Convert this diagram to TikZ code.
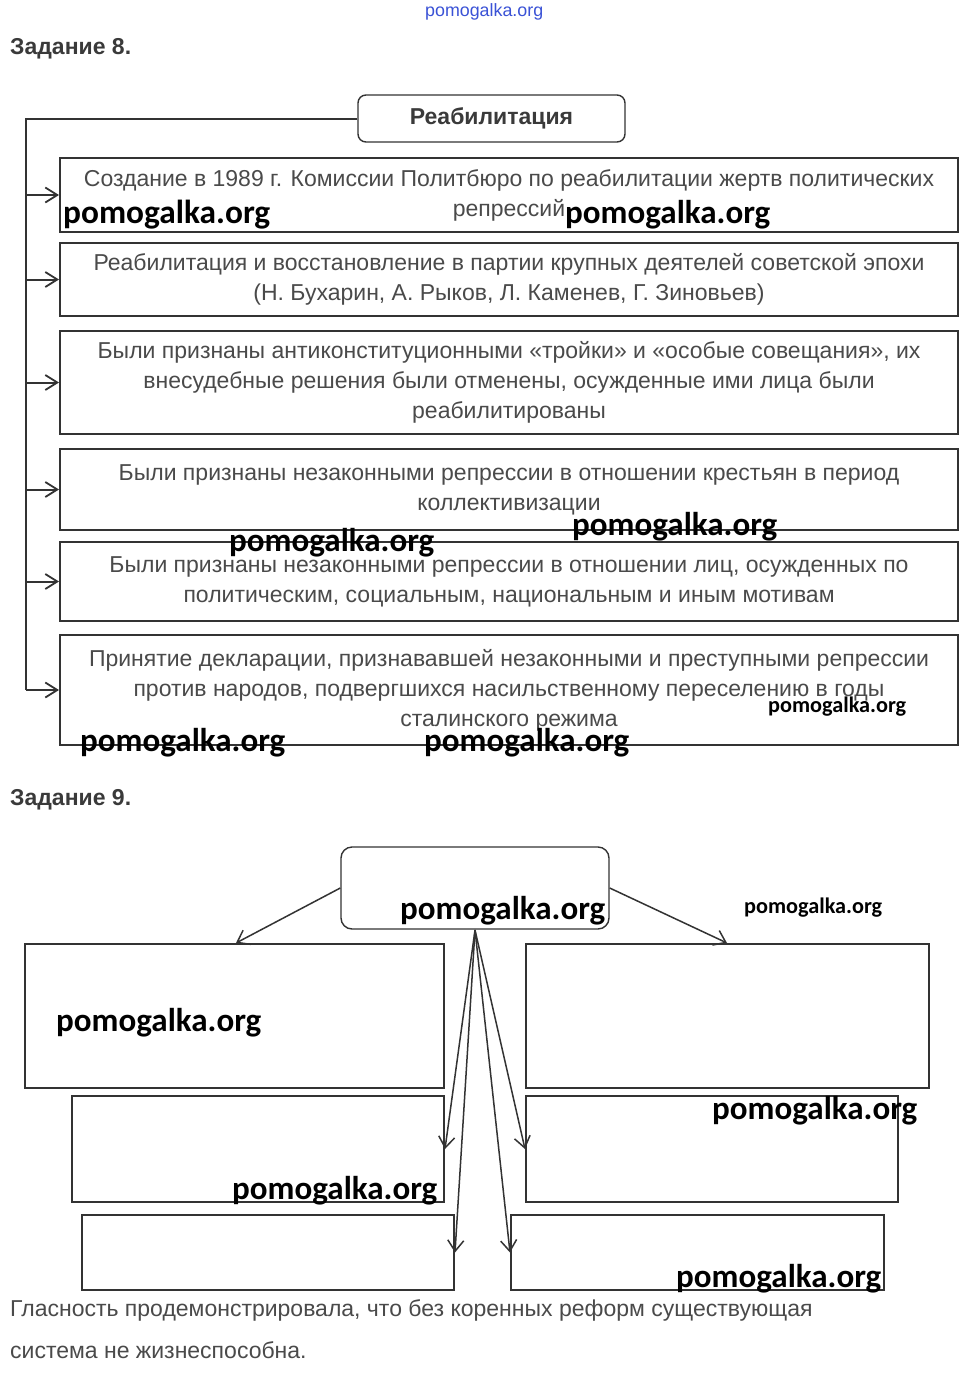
\documentclass[tikz,border=0pt]{standalone}
\usepackage{fontspec}
\setmainfont{Liberation Sans}
\newfontfamily\wmfont{Carlito}
\usetikzlibrary{arrows.meta}
\definecolor{txt}{HTML}{4A4A4A}
\definecolor{edge}{HTML}{333333}
\definecolor{head}{HTML}{3A3A3A}
\definecolor{wmblue}{HTML}{3A52D6}
\newcommand\wmark[1]{\resizebox{#1pt}{!}{\wmfont\bfseries pomogalka.org}}
\tikzset{
  bigbox/.style={draw=edge, line width=2pt, inner sep=0pt, text=txt, align=center,
    font=\fontsize{23}{30}\selectfont, minimum width=898pt},
  emptybox/.style={draw=edge, line width=2pt, inner sep=0pt},
  titlebox/.style={draw=edge, line width=1.4pt, rounded corners=8pt, inner sep=0pt,
    text=head, font=\bfseries\fontsize{23}{26}\selectfont},
  headline/.style={anchor=west, inner sep=0pt, text=head, font=\bfseries\fontsize{23}{26}\selectfont},
  plain/.style={anchor=west, inner sep=0pt, text=txt, font=\fontsize{23}{30}\selectfont},
  wm/.style={anchor=west, inner sep=0pt},
  conn/.style={draw=edge, line width=2pt},
  arr/.style={draw=edge, line width=2pt, -{Straight Barb[length=12pt,width=15pt,line width=1.8pt]}},
  arrnine/.style={draw=edge, line width=1.5pt, -{Straight Barb[length=11pt,width=16pt,line width=1.5pt]}}
}
\begin{document}
\begin{tikzpicture}[x=1pt,y=-1pt]
\useasboundingbox[fill=white] (0,0) rectangle (966,1373);

% top watermark
\node[wm, text=wmblue] (wtop) at (425,12) {\resizebox{118pt}{!}{\fontsize{16}{18}\selectfont pomogalka.org}};

% ---------- Task 8 ----------
\node[headline] (h8) at (10,49) {Задание 8.};
\node[titlebox, minimum width=267pt, minimum height=47pt] (t8) at (491.5,118.5) {Реабилитация};

\node[bigbox, minimum height=74pt] (b1) at (509,195) {Создание в 1989 г. Комиссии Политбюро по реабилитации жертв политических\\репрессий};
\node[bigbox, minimum height=73pt] (b2) at (509,279.5) {Реабилитация и восстановление в партии крупных деятелей советской эпохи\\(Н. Бухарин, А. Рыков, Л. Каменев, Г. Зиновьев)};
\node[bigbox, minimum height=103pt] (b3) at (509,382.5) {Были признаны антиконституционными «тройки» и «особые совещания», их\\внесудебные решения были отменены, осужденные ими лица были\\реабилитированы};
\node[bigbox, minimum height=81pt] (b4) at (509,489.5) {Были признаны незаконными репрессии в отношении крестьян в период\\коллективизации};
\node[bigbox, minimum height=79pt] (b5) at (509,581.5) {Были признаны незаконными репрессии в отношении лиц, осужденных по\\политическим, социальным, национальным и иным мотивам};
\node[bigbox, minimum height=110pt] (b6) at (509,690) {Принятие декларации, признававшей незаконными и преступными репрессии\\против народов, подвергшихся насильственному переселению в годы\\сталинского режима};

\coordinate (trunk) at (26,118.5);
\coordinate (trunkend) at (26,690);
\draw[conn] (t8.west) -- (trunk) -- (trunkend);
\foreach \b in {b1,b2,b3,b4,b5,b6}
  \draw[arr] (\b.west -| trunk) -- (\b.west);

% watermarks task 8
\node[wm] (w1) at (63,215) {\wmark{207}};
\node[wm] (w2) at (565,215) {\wmark{205}};
\node[wm] (w3) at (572,527) {\wmark{205}};
\node[wm] (w4) at (229,543) {\wmark{205}};
\node[wm] (w5) at (768,707) {\wmark{138}};
\node[wm] (w6) at (80,743) {\wmark{205}};
\node[wm] (w7) at (424,743) {\wmark{205}};

% ---------- Task 9 ----------
\node[headline] (h9) at (10,800) {Задание 9.};
\node[draw=edge, line width=1.4pt, rounded corners=11pt, minimum width=268pt, minimum height=82pt, inner sep=0pt] (c9) at (475,888) {};

\node[emptybox, minimum width=419pt, minimum height=144pt] (l1) at (234.5,1016) {};
\node[emptybox, minimum width=403pt, minimum height=144pt] (r1) at (727.5,1016) {};
\node[emptybox, minimum width=372pt, minimum height=106pt] (l2) at (258,1149) {};
\node[emptybox, minimum width=372pt, minimum height=106pt] (r2) at (712,1149) {};
\node[emptybox, minimum width=372pt, minimum height=75pt] (l3) at (268,1252.5) {};
\node[emptybox, minimum width=373pt, minimum height=75pt] (r3) at (697.5,1252.5) {};

\coordinate (src) at (475,930);
\draw[arrnine] (c9.west) -- (236,943);
\draw[arrnine] (c9.east) -- (727,943);
\draw[arrnine] (src) -- (l2.east);
\draw[arrnine] (src) -- (r2.west);
\draw[arrnine] (src) -- (l3.east);
\draw[arrnine] (src) -- (r3.west);

% watermarks task 9
\node[wm] (w8) at (400,911) {\wmark{205}};
\node[wm] (w9) at (744,908) {\wmark{138}};
\node[wm] (w10) at (56,1023) {\wmark{205}};
\node[wm] (w11) at (712,1111) {\wmark{205}};
\node[wm] (w12) at (232,1191) {\wmark{205}};
\node[wm] (w13) at (676,1279) {\wmark{205}};

\node[plain] (p1) at (10,1310) {Гласность продемонстрировала, что без коренных реформ существующая};
\node[plain] (p2) at (10,1350) {система не жизнеспособна.};
\end{tikzpicture}
\end{document}
